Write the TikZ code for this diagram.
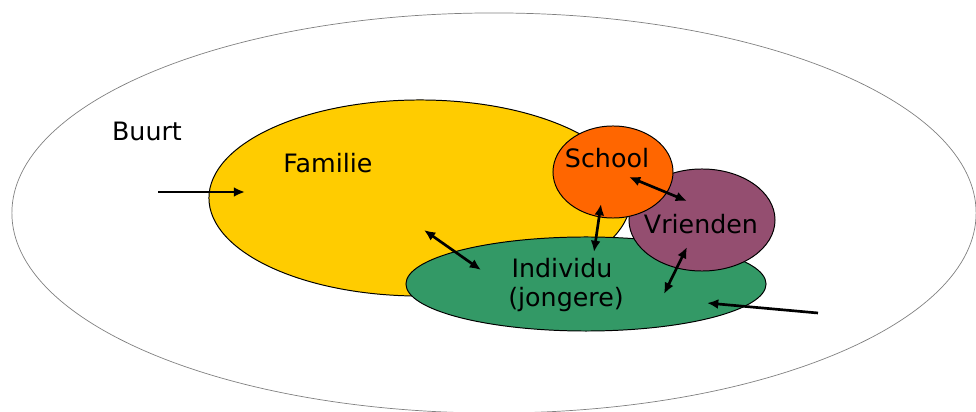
\documentclass[tikz,border=0pt]{standalone}
\usepackage{fontspec}
\setmainfont{DejaVu Sans}
\usetikzlibrary{shapes.geometric,arrows.meta}
\definecolor{famgeel}{RGB}{255,204,0}
\definecolor{schooloranje}{RGB}{255,102,0}
\definecolor{vriendpaars}{RGB}{148,78,112}
\definecolor{indgroen}{RGB}{51,153,102}

\begin{document}
\begin{tikzpicture}[
x=0.025cm, y=-0.025cm,
blob/.style={ellipse, draw=black, line width=0.7pt, inner sep=0pt},
lbl/.style={font=\fontsize{18}{22}\selectfont, inner sep=0pt},
pijl/.style={line width=1.9pt, -{Latex[length=8pt,width=7pt]}},
dubbel/.style={line width=1.9pt, {Latex[length=8pt,width=7pt]}-{Latex[length=8pt,width=7pt]}}
]
    \useasboundingbox (0,0) rectangle (976,412);
    \node [ellipse, draw=black!50, line width=0.5pt, minimum width=24.1cm, minimum height=10cm] (buurt) at (494,213) {};

    \node [blob, fill=famgeel, minimum width=10.55cm, minimum height=4.9cm] (familie) at (420,198) {};
    \node [blob, fill=indgroen, minimum width=9cm, minimum height=2.35cm] (individu) at (586,284) {};
    \node [blob, fill=vriendpaars, minimum width=3.65cm, minimum height=2.55cm] (vrienden) at (702,220) {};
    \node [blob, fill=schooloranje, minimum width=3cm, minimum height=2.3cm] (school) at (613,172) {};

    \node [lbl] (tbuurt) at (147,131) {Buurt};
    \node [lbl] (tfamilie) at (328,163) {Familie};
    \node [lbl] (tschool) at (607,158) {School};
    \node [lbl] (tvrienden) at (701,224) {Vrienden};
    \node [lbl] (tindividu) at (562,268) {Individu};
    \node [lbl] (tjongere) at (566,300) {(jongere)};

    \coordinate (in1) at (158,192);
    \coordinate (in2) at (245,192);
    \coordinate (fa) at (424,230);
    \coordinate (ia) at (481,270);
    \coordinate (sa) at (601,204);
    \coordinate (ib) at (594,252);
    \coordinate (sb) at (629,177);
    \coordinate (va) at (687,201);
    \coordinate (vb) at (687,247);
    \coordinate (ic) at (664,294);
    \coordinate (uit1) at (818,313);
    \coordinate (uit2) at (707,303);

    \draw [pijl] (in1) -- (in2);
    \draw [dubbel] (fa) -- (ia);
    \draw [dubbel] (sa) -- (ib);
    \draw [dubbel] (sb) -- (va);
    \draw [dubbel] (vb) -- (ic);
    \draw [pijl] (uit1) -- (uit2);
\end{tikzpicture}
\end{document}
